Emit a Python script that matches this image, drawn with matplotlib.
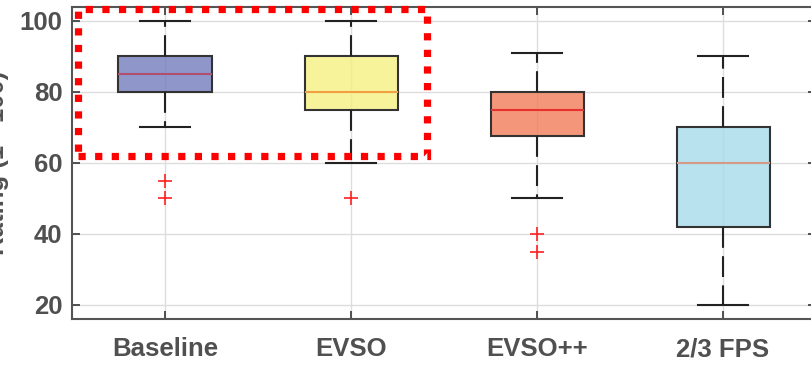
import matplotlib
matplotlib.use("Agg")
import matplotlib.pyplot as plt
from matplotlib.patches import Rectangle
import numpy as np

# ---- data ----
categories = ["Baseline", "EVSO", "EVSO++", "2/3 FPS"]
q1 = [80, 75, 67.5, 42]
med = [85, 80, 75, 60]
q3 = [90, 90, 80, 70]
whislo = [70, 60, 50, 20]
whishi = [100, 100, 91, 90]
fliers = [[55, 50], [50], [40, 35], []]
yticks = [20, 40, 60, 80, 100]

face_colors = ["#8E96CA", "#F7F39A", "#F4967A", "#B8E2EE"]
median_colors = ["#B0506E", "#F0A040", "#E8302E", "#D49A85"]

plt.rcParams['font.family'] = ['Liberation Sans', 'DejaVu Sans']

fig = plt.figure(figsize=(8.12, 3.67), dpi=100)
W, H = 812, 367
ax_left, ax_right, ax_top, ax_bot = 72, 816, 7.5, 319
ax = fig.add_axes([ax_left / W, 1 - ax_bot / H, (ax_right - ax_left) / W, (ax_bot - ax_top) / H])

stats = []
for i, c in enumerate(categories):
    stats.append(dict(label=c, q1=q1[i], med=med[i], q3=q3[i],
                      whislo=whislo[i], whishi=whishi[i], fliers=fliers[i]))

positions = np.arange(1, len(categories) + 1)
bp = ax.bxp(stats, positions=positions, widths=0.5, patch_artist=True,
            capwidths=0.27,
            boxprops=dict(edgecolor="#333333", linewidth=1.5),
            whiskerprops=dict(color="#222222", linewidth=1.5, linestyle=(0, (10, 4))),
            capprops=dict(color="#222222", linewidth=1.5),
            medianprops=dict(linewidth=1.5),
            flierprops=dict(marker="+", markeredgecolor="#FF2020", markersize=10,
                            markeredgewidth=1.2, linestyle="none"))

def alpha_base(hexc, a):
    rgb = np.array(matplotlib.colors.to_rgb(hexc))
    base = (rgb - (1 - a)) / a
    return tuple(np.clip(base, 0, 1))

a = 0.8
for patch, fc in zip(bp['boxes'], face_colors):
    patch.set_facecolor(alpha_base(fc, a) + (a,))
    patch.set_zorder(2)
for m, mc in zip(bp['medians'], median_colors):
    m.set_color(mc)
    m.set_zorder(3)

ax.set_xlim(0.5, 4.5)
ax.set_ylim(16.0, 103.8)
ax.set_yticks(yticks)
ax.set_xticks(positions)
ax.set_xticklabels(categories)

ax.grid(True, color="#DDDDDD", linewidth=1.0)
ax.set_axisbelow(True)

for s in ax.spines.values():
    s.set_color("#555555")
    s.set_linewidth(1.5)

ax.tick_params(axis='both', direction='in', length=6, width=1.3, color="#444444",
               labelsize=18.5, labelcolor="#505050")
ax.tick_params(axis='y', right=True, pad=7)
ax.tick_params(axis='x', top=True, pad=13)
for lab in ax.get_xticklabels() + ax.get_yticklabels():
    lab.set_fontweight('bold')

ax.set_ylabel("Rating (1 - 100)", fontsize=18.5, fontweight='bold', color="#505050")
ax.yaxis.set_label_coords((9 - ax_left) / (ax_right - ax_left), 0.5)

# red dotted highlight rectangle
rect = Rectangle((0.532, 62.0), 2.41 - 0.532, 103.3 - 62.0, fill=False,
                 edgecolor="#FF0000", linewidth=5.2, linestyle=(0, (1, 1.3)),
                 capstyle='butt', zorder=5, clip_on=False)
ax.add_patch(rect)

fig.savefig("out.png", dpi=100)
